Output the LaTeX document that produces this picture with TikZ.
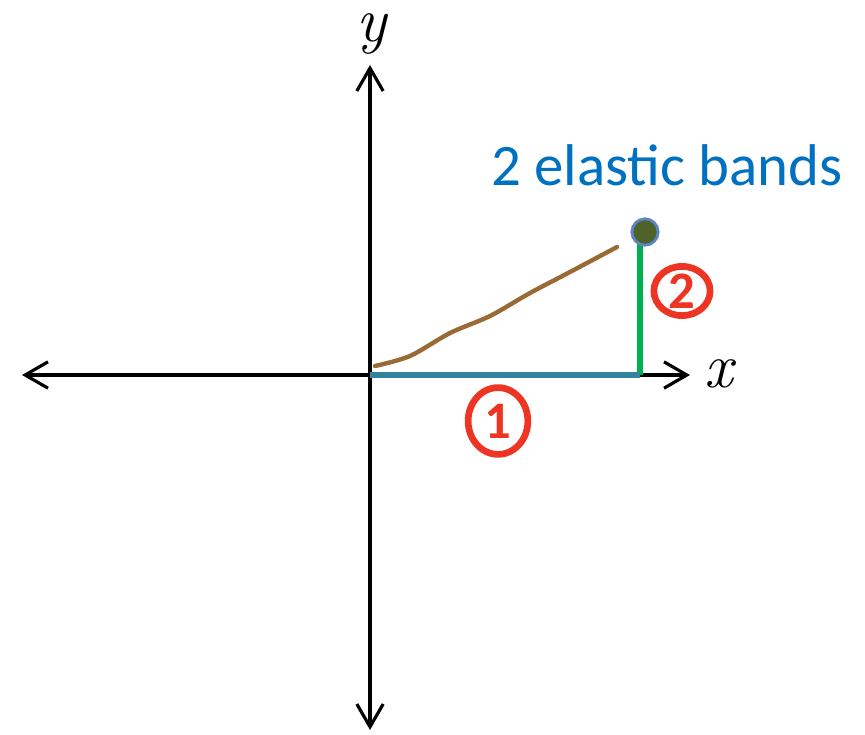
\documentclass[tikz,border=0pt]{standalone}
\usepackage{fontspec}
\setsansfont{Carlito}
\usepackage{xcolor}
\usetikzlibrary{calc, shapes.geometric, positioning, arrows.meta}

\definecolor{bandblue}{HTML}{31849B}
\definecolor{bandgreen}{HTML}{00B050}
\definecolor{titleblue}{HTML}{0070C0}
\definecolor{penred}{HTML}{EE3524}
\definecolor{penbrown}{HTML}{9A6A35}
\definecolor{dotfill}{HTML}{4F6228}
\definecolor{dotring}{HTML}{5B86C5}

\tikzset{
    axis/.style={line width=1.8pt, {Straight Barb[length=13pt,width=15pt]}-{Straight Barb[length=13pt,width=15pt]}},
    mark1/.style={ellipse, draw=penred, line width=3.8pt, text=penred, font=\sffamily\bfseries\fontsize{30}{30}\selectfont, inner sep=0pt},
    axlabel/.style={font=\rmfamily\itshape\fontsize{36}{36}\selectfont, inner sep=0pt, anchor=base},
}

\begin{document}
\begin{tikzpicture}[x=0.02cm, y=-0.02cm]
            \useasboundingbox (0,0) rectangle (865,734);
            % 1. Hệ trục
            \coordinate (O) at (370,375);
            \coordinate (xl) at (22,375);
            \coordinate (xr) at (690,375);
            \coordinate (yt) at (370,65);
            \coordinate (yb) at (370,730);
            \draw[axis] (xl) -- (xr);
            \draw[axis] (yb) -- (yt);
            \node[axlabel] (xlab) at (719,387) {x};
            \node[axlabel] (ylab) at (372,41) {y};

            % 2. Hai dây
            \coordinate (P) at (640,375);
            \coordinate (Q) at (640,232);
            \draw[bandgreen, line width=3pt] (P) -- (Q);
            \draw[bandblue, line width=3.6pt] (O) -- (P);
            \node[circle, fill=dotfill, draw=dotring, line width=1.6pt, minimum size=15pt, inner sep=0pt] (dot) at (645,232) {};

            % 3. Đường nâu
            \draw[penbrown, line width=2.5pt, line cap=round, smooth]
                plot coordinates {(375,366) (410,356) (450,333) (490,316) (530,293) (570,272) (617,247)};

            % 4. Nhãn
            \node[text=titleblue, font=\sffamily\fontsize{33.5}{33.5}\selectfont] (title) at (667,165) {2 elastic bands};
            \node[mark1, minimum width=34pt, minimum height=38pt] (one) at (498,421) {1};
            \node[mark1, minimum width=32pt, minimum height=28pt] (two) at (682,291) {2};
        \end{tikzpicture}
\end{document}
